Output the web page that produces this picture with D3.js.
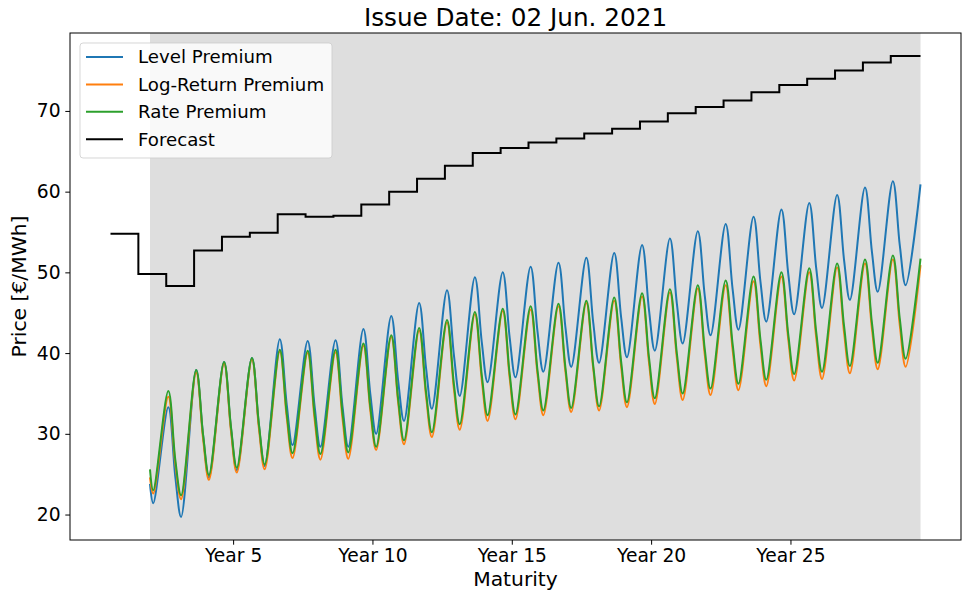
<!DOCTYPE html>
<html>
<head>
<meta charset="utf-8">
<script src="https://cdn.jsdelivr.net/npm/d3@7"></script>
<style>
	body { margin: 0; background: #fff; }
	text { font-family: "DejaVu Sans", sans-serif; fill: #000; }
</style>
</head>
<body>
<div id="chart-area"></div>
<script>

// Data (x in months, "Year N" = month 12*N)
let titleText = "Issue Date: 02 Jun. 2021";
let xTickMonths = [60, 120, 180, 240, 300];
let xTickLabels = ["Year 5", "Year 10", "Year 15", "Year 20", "Year 25"];
let yTicks = [20, 30, 40, 50, 60, 70];

let seriesNames = ["Level Premium", "Log-Return Premium", "Rate Premium", "Forecast"];
let seriesColors = ["#1f77b4", "#ff7f0e", "#2ca02c", "#000000"];

// yearly forecast blocks, each starting at month 7.2 + 12*k
let forecastStart = 7.2;
let forecastEnd = 356;
let forecast = [54.8, 49.8, 48.3, 52.7, 54.4, 54.9, 57.2, 56.9, 57.0, 58.4,
	60.0, 61.6, 63.2, 64.8, 65.4, 66.1, 66.6, 67.2, 67.8, 68.7,
	69.7, 70.5, 71.3, 72.3, 73.2, 74.0, 75.0, 76.0, 76.8];

// shaded delivery period
let shadeStart = 24.2;
let shadeEnd = 356;

// seasonal cycles: peak / shoulder / trough of year k (peaks k=2..29, shoulders k=2..28, troughs k=1..28)
let peakOffset = 8.1, shoulderOffset = 11.1, troughOffset = 13.6;

let levelStart = 23.8;
let levelPeaks = [33.3, 37.9, 38.9, 39.4, 41.7, 41.5, 41.6, 43.0, 44.6, 46.2, 47.8, 49.4, 50.0, 50.7,
	51.2, 51.8, 52.4, 53.4, 54.2, 55.1, 56.0, 56.9, 57.8, 58.6, 59.6, 60.5, 61.3, 60.9];
let levelShoulders = [24.7, 29.7, 30.6, 31.1, 33.6, 33.4, 33.4, 34.9, 36.5, 38.1, 39.7, 41.3, 41.9, 42.6,
	43.2, 43.7, 44.4, 45.3, 46.1, 47.1, 47.9, 48.8, 49.7, 50.5, 51.5, 52.5, 53.3];
let levelTroughs = [21.4, 19.7, 24.6, 25.5, 26.0, 28.6, 28.4, 28.4, 30.0, 31.6, 33.1, 34.7, 36.4, 37.0,
	37.7, 38.3, 38.8, 39.5, 40.3, 41.2, 42.2, 42.9, 43.9, 44.8, 45.6, 46.6, 47.6, 48.4];

let logStart = 24.6;
let logPeaks = [34.6, 37.6, 38.7, 39.2, 40.2, 40.0, 40.1, 40.9, 42.0, 42.8, 43.8, 44.8, 45.2, 45.4,
	45.8, 46.2, 46.5, 47.0, 47.5, 48.0, 48.4, 48.9, 49.5, 50.0, 50.6, 51.1, 51.6, 50.9];
let logShoulders = [26.3, 29.3, 30.3, 30.7, 32.0, 31.8, 31.9, 32.8, 33.8, 34.6, 35.5, 36.6, 36.9, 37.3,
	37.7, 38.0, 38.3, 38.8, 39.3, 39.8, 40.4, 40.9, 41.6, 41.9, 42.5, 43.0, 43.4];
let logTroughs = [22.6, 21.9, 24.3, 25.2, 25.6, 27.0, 26.8, 26.9, 28.0, 28.7, 29.6, 30.5, 31.6, 31.8,
	32.3, 32.7, 32.9, 33.3, 33.7, 34.2, 34.8, 35.4, 35.9, 36.6, 36.8, 37.5, 38.0, 38.3];

let rateStart = 25.6;
let ratePeaks = [35.3, 37.9, 38.9, 39.4, 40.4, 40.3, 40.4, 41.2, 42.2, 43.1, 44.1, 45.1, 45.5, 45.8,
	46.1, 46.5, 46.9, 47.4, 47.9, 48.4, 49.0, 49.5, 50.0, 50.5, 51.1, 51.6, 52.1, 51.7];
let rateShoulders = [26.8, 29.8, 30.8, 31.2, 32.5, 32.4, 32.6, 33.3, 34.2, 35.1, 36.1, 37.2, 37.4, 37.8,
	38.2, 38.4, 38.9, 39.4, 39.9, 40.5, 41.1, 41.6, 42.2, 42.6, 43.3, 43.7, 44.2];
let rateTroughs = [23.0, 22.4, 24.9, 25.8, 26.2, 27.6, 27.5, 27.7, 28.4, 29.2, 30.2, 31.2, 32.3, 32.4,
	32.9, 33.2, 33.4, 33.9, 34.4, 35.0, 35.6, 36.2, 36.7, 37.4, 37.7, 38.4, 38.8, 39.3];


function buildSeries(start, peaks, shoulders, troughs) {
	let pts = [{m: shadeStart, v: start}];
	pts.push({m: 12 + troughOffset, v: troughs[0]});
	for (let k = 2; k <= 28; k++) {
		pts.push({m: 12 * k + peakOffset, v: peaks[k - 2]});
		pts.push({m: 12 * k + shoulderOffset, v: shoulders[k - 2]});
		pts.push({m: 12 * k + troughOffset, v: troughs[k - 1]});
	}
	pts.push({m: Math.min(12 * 29 + peakOffset, shadeEnd), v: peaks[27]});
	return pts;
}

let level = buildSeries(levelStart, levelPeaks, levelShoulders, levelTroughs);
let logRet = buildSeries(logStart, logPeaks, logShoulders, logTroughs);
let rate = buildSeries(rateStart, ratePeaks, rateShoulders, rateTroughs);

let forecastPts = forecast.map((v, k) => ({m: forecastStart + 12 * k, v: v}));
forecastPts.push({m: forecastEnd, v: forecast[forecast.length - 1]});


// SVG drawing area
let margin = {top: 33, right: 2, bottom: 51, left: 70};

let width = 963 - margin.left - margin.right,
	height = 591 - margin.top - margin.bottom;

let svg = d3.select("#chart-area").append("svg")
	.attr("width", width + margin.left + margin.right)
	.attr("height", height + margin.top + margin.bottom)
	.append("g")
	.attr("transform", "translate(" + margin.left + "," + margin.top + ")");

// Scales (matplotlib style 5% margins)
let allPts = level.concat(logRet, rate, forecastPts);
let xExt = d3.extent(allPts, d => d.m);
let yExt = d3.extent(allPts, d => d.v);
let xPad = (xExt[1] - xExt[0]) * 0.05;
let yPad = (yExt[1] - yExt[0]) * 0.05;

let x = d3.scaleLinear()
	.domain([xExt[0] - xPad, xExt[1] + xPad])
	.range([0, width]);

let y = d3.scaleLinear()
	.domain([yExt[0] - yPad, yExt[1] + yPad])
	.range([height, 0]);

// shaded period
svg.append("rect")
	.attr("x", x(shadeStart))
	.attr("y", 0)
	.attr("width", x(shadeEnd) - x(shadeStart))
	.attr("height", height)
	.attr("fill", "#dedede");

// Lines
let line = d3.line()
	.x(d => x(d.m))
	.y(d => y(d.v))
	.curve(d3.curveCatmullRom.alpha(0.5));

let stepLine = d3.line()
	.x(d => x(d.m))
	.y(d => y(d.v))
	.curve(d3.curveStepAfter);

[level, logRet, rate].forEach((s, i) => {
	svg.append("path")
		.datum(s)
		.attr("d", line)
		.attr("fill", "none")
		.attr("stroke", seriesColors[i])
		.attr("stroke-width", 2)
		.attr("stroke-linejoin", "round");
});

svg.append("path")
	.datum(forecastPts)
	.attr("d", stepLine)
	.attr("fill", "none")
	.attr("stroke", seriesColors[3])
	.attr("stroke-width", 2);

// Axes
let xAxis = d3.axisBottom(x)
	.tickValues(xTickMonths)
	.tickFormat((d, i) => xTickLabels[i])
	.tickSize(4.7)
	.tickPadding(4)
	.tickSizeOuter(0);

let yAxis = d3.axisLeft(y)
	.tickValues(yTicks)
	.tickSize(4.7)
	.tickPadding(4.7)
	.tickSizeOuter(0);

let xAxisGroup = svg.append("g")
	.attr("class", "x-axis axis")
	.attr("transform", "translate(0," + height + ")")
	.call(xAxis);

let yAxisGroup = svg.append("g")
	.attr("class", "y-axis axis")
	.call(yAxis);

svg.selectAll(".axis .domain").remove();
svg.selectAll(".axis line").attr("stroke", "#000").attr("stroke-width", 1);
svg.selectAll(".axis text")
	.style("font-family", "'DejaVu Sans', sans-serif")
	.style("font-size", "18.7px")
	.attr("fill", "#000");

// frame
svg.append("rect")
	.attr("width", width)
	.attr("height", height)
	.attr("fill", "none")
	.attr("stroke", "#000")
	.attr("stroke-width", 1);

// Labels
svg.append("text")
	.attr("x", width / 2)
	.attr("y", -7)
	.attr("text-anchor", "middle")
	.style("font-size", "24.7px")
	.text(titleText);

svg.append("text")
	.attr("x", width / 2)
	.attr("y", height + 46)
	.attr("text-anchor", "middle")
	.style("font-size", "20.3px")
	.text("Maturity");

svg.append("text")
	.attr("transform", "translate(" + (26 - margin.left) + "," + (height / 2) + ") rotate(-90)")
	.attr("text-anchor", "middle")
	.style("font-size", "20.3px")
	.text("Price [€/MWh]");

// Legend
let legend = svg.append("g")
	.attr("transform", "translate(10,10)");

legend.append("rect")
	.attr("width", 252)
	.attr("height", 115)
	.attr("rx", 3)
	.attr("fill", "#fff")
	.attr("fill-opacity", 0.8)
	.attr("stroke", "#ccc")
	.attr("stroke-opacity", 0.8);

seriesNames.forEach((name, i) => {
	let row = legend.append("g")
		.attr("transform", "translate(0," + (14 + i * 27.4) + ")");
	row.append("line")
		.attr("x1", 6)
		.attr("x2", 43)
		.attr("stroke", seriesColors[i])
		.attr("stroke-width", 2);
	row.append("text")
		.attr("x", 58)
		.attr("dy", "0.35em")
		.style("font-size", "18.2px")
		.text(name);
});

</script>
</body>
</html>
